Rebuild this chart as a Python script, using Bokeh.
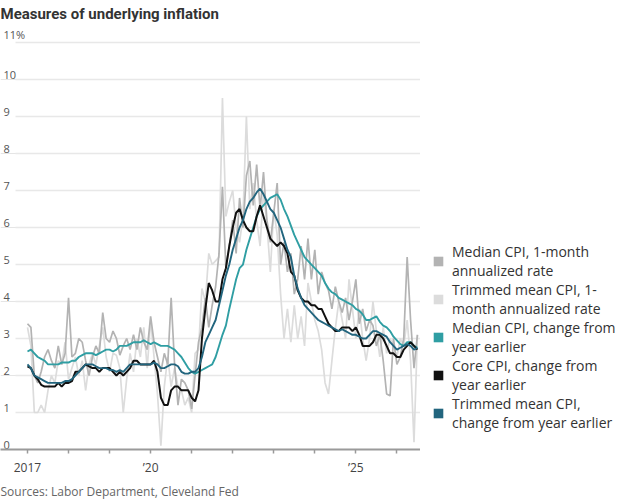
import numpy as np
from bokeh.plotting import figure
from bokeh.layouts import row
from bokeh.models import (ColumnDataSource, FixedTicker, Legend, LegendItem,
                          Title, Range1d, Grid)
from bokeh.core.properties import value
from bokeh.embed import file_html
from bokeh.resources import INLINE

# ---- data (monthly, starting January 2017) ----
median_1m = [3.4, 3.3, 2.0, 1.8, 2.1, 2.5, 2.7, 2.4, 2.2, 2.8, 2.3, 2.6,
             4.1, 2.5, 2.6, 3.0, 2.9, 2.4, 2.0, 2.5, 2.8, 2.6, 3.7, 3.0,
             2.9, 3.2, 3.0, 2.55, 2.8, 3.0, 2.7, 3.1, 2.7, 3.3, 2.9, 2.7,
             3.6, 2.9, 2.5, 2.1, 2.6, 2.3, 4.1, 2.3, 1.2, 1.9, 1.8, 1.6,
             1.1, 2.0, 2.9, 3.3, 4.1, 3.3, 3.9, 4.4, 5.3, 7.1, 4.9, 5.5,
             6.2, 5.3, 6.8, 6.0, 7.4, 7.8, 6.6, 7.7, 6.5, 7.5, 6.2, 5.6,
             6.4, 7.2, 5.0, 5.6, 4.8, 5.3, 4.2, 4.6, 5.5, 4.6, 5.7, 4.6,
             5.4, 4.2, 4.8, 4.5, 4.3, 3.8, 4.4, 4.0, 3.7, 4.1, 3.5, 4.0,
             4.6, 3.4, 3.8, 3.2, 3.5, 3.35, 2.8, 3.1, 2.4, 1.5, 1.45, 3.0,
             2.3, 2.5, 3.0, 5.2, 3.5, 2.2, 3.1]

trimmed_1m = [3.3, 2.8, 1.0, 1.0, 1.2, 1.0, 1.6, 2.0, 1.8, 2.4, 2.3, 2.9,
              1.9, 2.2, 2.5, 2.0, 2.4, 1.6, 2.3, 2.6, 2.3, 2.8, 3.3, 2.5,
              2.1, 2.6, 2.55, 2.2, 1.0, 1.9, 2.6, 2.1, 3.0, 2.5, 3.3, 2.2,
              3.5, 2.5, 1.5, 0.1, 1.7, 2.5, 1.7, 2.2, 1.7, 1.6, 1.2, 1.4,
              1.0, 2.6, 2.7, 4.35, 4.0, 5.3, 5.0, 5.1, 5.2, 9.5, 6.3, 6.7,
              7.0, 6.0, 5.6, 6.3, 9.0, 6.5, 7.2, 6.2, 5.5, 7.0, 6.1, 4.8,
              6.5, 5.8, 4.2, 3.0, 3.8, 2.9, 3.9, 3.0, 3.6, 2.8, 4.5, 4.0,
              3.5, 3.2, 2.7, 1.8, 1.5, 2.4, 3.27, 4.0, 3.5, 3.0, 4.6, 3.8,
              3.0, 3.8, 3.0, 2.4, 3.0, 4.0, 3.2, 2.5, 3.3, 2.6, 3.0, 2.8,
              2.5, 3.0, 2.8, 3.5, 2.4, 0.2, 3.1]

median_yoy = [2.65, 2.7, 2.6, 2.5, 2.45, 2.4, 2.3, 2.3, 2.3, 2.3, 2.35, 2.35,
              2.35, 2.4, 2.4, 2.5, 2.55, 2.6, 2.6, 2.6, 2.55, 2.6, 2.65, 2.7,
              2.7, 2.65, 2.7, 2.8, 2.8, 2.8, 2.85, 2.9, 2.9, 2.9, 2.95, 2.9,
              2.85, 2.9, 2.85, 2.8, 2.8, 2.8, 2.75, 2.7, 2.6, 2.5, 2.35, 2.2,
              2.1, 2.05, 2.1, 2.15, 2.2, 2.25, 2.3, 2.5, 2.8, 3.1, 3.35, 3.8,
              4.2, 4.6, 4.9, 5.0, 5.4, 5.7, 6.0, 6.3, 6.5, 6.6, 6.7, 6.8,
              6.85, 6.9, 6.75, 6.5, 6.3, 6.05, 5.8, 5.6, 5.4, 5.2, 5.1, 5.0,
              4.9, 4.8, 4.7, 4.5, 4.35, 4.25, 4.2, 4.1, 4.05, 4.0, 3.95, 3.9,
              3.8, 3.75, 3.65, 3.5, 3.5, 3.55, 3.6, 3.45, 3.35, 3.3, 3.2, 3.05,
              2.95, 2.85, 2.8, 2.9, 2.9, 2.8, 2.75]

core_yoy = [2.25, 2.2, 2.0, 1.9, 1.75, 1.7, 1.7, 1.7, 1.7, 1.8, 1.7, 1.8,
            1.8, 1.85, 2.1, 2.1, 2.2, 2.3, 2.25, 2.2, 2.2, 2.1, 2.2, 2.2,
            2.2, 2.1, 2.0, 2.1, 2.0, 2.1, 2.2, 2.4, 2.4, 2.3, 2.3, 2.3,
            2.3, 2.4, 2.1, 1.4, 1.2, 1.2, 1.6, 1.7, 1.7, 1.6, 1.6, 1.6,
            1.4, 1.3, 1.6, 3.0, 3.8, 4.5, 4.3, 4.0, 4.0, 4.6, 4.9, 5.5,
            6.0, 6.4, 6.5, 6.2, 6.0, 5.9, 5.9, 6.3, 6.6, 6.3, 6.0, 5.7,
            5.6, 5.5, 5.6, 5.5, 5.3, 4.8, 4.7, 4.3, 4.1, 4.0, 4.0, 3.9,
            3.9, 3.8, 3.8, 3.6, 3.4, 3.3, 3.2, 3.2, 3.3, 3.3, 3.3, 3.2,
            3.3, 3.1, 2.8, 2.8, 2.8, 2.9, 3.1, 3.1, 3.0, 2.8, 2.6, 2.6,
            2.5, 2.5, 2.7, 2.8, 2.9, 2.8, 2.7]

trimmed_yoy = [2.3, 2.2, 2.0, 1.95, 1.9, 1.85, 1.8, 1.8, 1.8, 1.8, 1.8, 1.85,
               1.85, 1.9, 2.0, 2.1, 2.2, 2.3, 2.3, 2.3, 2.25, 2.2, 2.2, 2.2,
               2.15, 2.15, 2.1, 2.15, 2.1, 2.2, 2.3, 2.3, 2.3, 2.3, 2.3, 2.3,
               2.3, 2.35, 2.3, 2.2, 2.2, 2.25, 2.3, 2.3, 2.25, 2.1, 2.05, 2.05,
               2.1, 2.1, 2.2, 2.5, 2.9, 3.1, 3.3, 3.5, 3.9, 4.3, 4.7, 5.0,
               5.4, 5.7, 6.0, 6.2, 6.5, 6.7, 6.8, 6.95, 7.05, 6.9, 6.7, 6.5,
               6.4, 6.2, 6.0, 5.7, 5.4, 5.2, 4.7, 4.35, 4.1, 3.9, 3.8, 3.7,
               3.6, 3.5, 3.45, 3.4, 3.35, 3.3, 3.25, 3.2, 3.25, 3.2, 3.15, 3.1,
               3.1, 3.05, 3.0, 3.0, 3.1, 3.2, 3.2, 3.15, 3.1, 3.05, 2.9, 2.8,
               2.7, 2.75, 2.8, 2.85, 2.8, 2.7, 2.75]

months = list(range(len(core_yoy)))  # months since Jan 2017

y_ticks = [0, 1, 2, 3, 4, 5, 6, 7, 8, 9, 10, 11]
y_tick_labels = ["0", "1", "2", "3", "4", "5", "6", "7", "8", "9", "10", "11%"]
x_ticks = [0, 12, 24, 36, 48, 60, 72, 84, 96, 108]
x_tick_labels = {0: "2017", 36: "\u201920", 96: "\u201925"}

legend_labels = ["Median CPI, 1-month\nannualized rate",
                 "Trimmed mean CPI, 1-\nmonth annualized rate",
                 "Median CPI, change from\nyear earlier",
                 "Core CPI, change from\nyear earlier",
                 "Trimmed mean CPI,\nchange from year earlier"]

FONT = "Open Sans"
C_MED1 = "#b3b3b3"
C_TRIM1 = "#dcdcdc"
C_MEDY = "#2f9ea3"
C_CORE = "#111111"
C_TRIMY = "#22657e"

src = ColumnDataSource(dict(m=months, median_1m=median_1m, trimmed_1m=trimmed_1m,
                            median_yoy=median_yoy, core_yoy=core_yoy,
                            trimmed_yoy=trimmed_yoy))

x0, x1 = -7.89, 114.9
p = figure(frame_width=420, frame_height=421,
           x_range=Range1d(x0, x1), y_range=Range1d(0, 11.38),
           output_backend="svg", toolbar_location=None,
           y_axis_location=None,
           min_border_left=0, min_border_right=0,
           min_border_top=0, min_border_bottom=0)
p.outline_line_color = None
p.background_fill_color = "white"
p.xgrid.visible = False
grid = Grid(dimension=1, ticker=FixedTicker(ticks=y_ticks),
            grid_line_color="#e8e8e8", grid_line_width=1.5)
try:
    grid.cross_bounds = (x0 + 15 / 3.42, x1)
except Exception:
    pass
p.add_layout(grid)

# x axis
ax = p.xaxis[0]
ax.ticker = FixedTicker(ticks=x_ticks)
ax.major_label_overrides = {t: x_tick_labels.get(t, "") for t in x_ticks}
ax.axis_line_color = "#9a9a9a"
ax.axis_line_width = 2
ax.major_tick_line_color = "#9a9a9a"
ax.major_tick_line_width = 1.5
ax.major_tick_out = 4
ax.major_tick_in = 0
ax.minor_tick_line_color = None
ax.major_label_standoff = 5
ax.major_label_text_font = FONT
ax.major_label_text_font_size = "12px"
ax.major_label_text_color = "#444444"

# y tick labels, left aligned above the gridlines
p.text(x=[x0] * len(y_ticks), y=y_ticks, text=y_tick_labels,
       text_align="left", text_baseline="bottom", x_offset=3, y_offset=-1,
       text_font=value(FONT), text_font_size="11px", text_color="#555555")

# series
p.line("m", "trimmed_1m", source=src, line_color=C_TRIM1, line_width=1.7)
p.line("m", "median_1m", source=src, line_color=C_MED1, line_width=1.7)
p.line("m", "median_yoy", source=src, line_color=C_MEDY, line_width=1.9)
p.line("m", "core_yoy", source=src, line_color=C_CORE, line_width=2)
p.line("m", "trimmed_yoy", source=src, line_color=C_TRIMY, line_width=1.9)

# title and source note
p.add_layout(Title(text="Measures of underlying inflation", align="left",
                   text_font="Roboto", text_font_size="15px",
                   text_font_style="bold", text_color="#333333",
                   vertical_align="top", standoff=8, offset=0), "above")
p.add_layout(Title(text="Sources: Labor Department, Cleveland Fed", align="left",
                   text_font=FONT, text_font_size="12px",
                   text_font_style="normal", text_color="#666666",
                   standoff=5, offset=0), "below")

# ---- legend panel (separate figure to the right) ----
LH = 500
lf = figure(width=200, height=LH, x_range=Range1d(0, 1), y_range=Range1d(0, 1),
            output_backend="svg", toolbar_location=None,
            x_axis_location=None, y_axis_location=None,
            min_border_left=0, min_border_right=0,
            min_border_top=0, min_border_bottom=0)
lf.outline_line_color = None
lf.xgrid.visible = False
lf.ygrid.visible = False

sw_colors = [C_MED1, C_TRIM1, C_MEDY, C_CORE, C_TRIMY]
items = []
for lab, col in zip(legend_labels, sw_colors):
    r = lf.quad(left=[np.nan], right=[np.nan], top=[np.nan], bottom=[np.nan],
                fill_color=col, line_color=None)
    items.append(LegendItem(label=lab, renderers=[r]))

legend = Legend(items=items, location=(12, 15), orientation="vertical",
                glyph_width=12, glyph_height=12, label_standoff=8,
                spacing=0, padding=0, margin=0,
                border_line_color=None, background_fill_alpha=0,
                label_text_font=FONT, label_text_font_size="14px",
                label_text_color="#333333", label_text_line_height=1.3)
lf.add_layout(legend, "center")

layout = row(p, lf, spacing=0)
open("out.html", "w").write(file_html(layout, INLINE))
